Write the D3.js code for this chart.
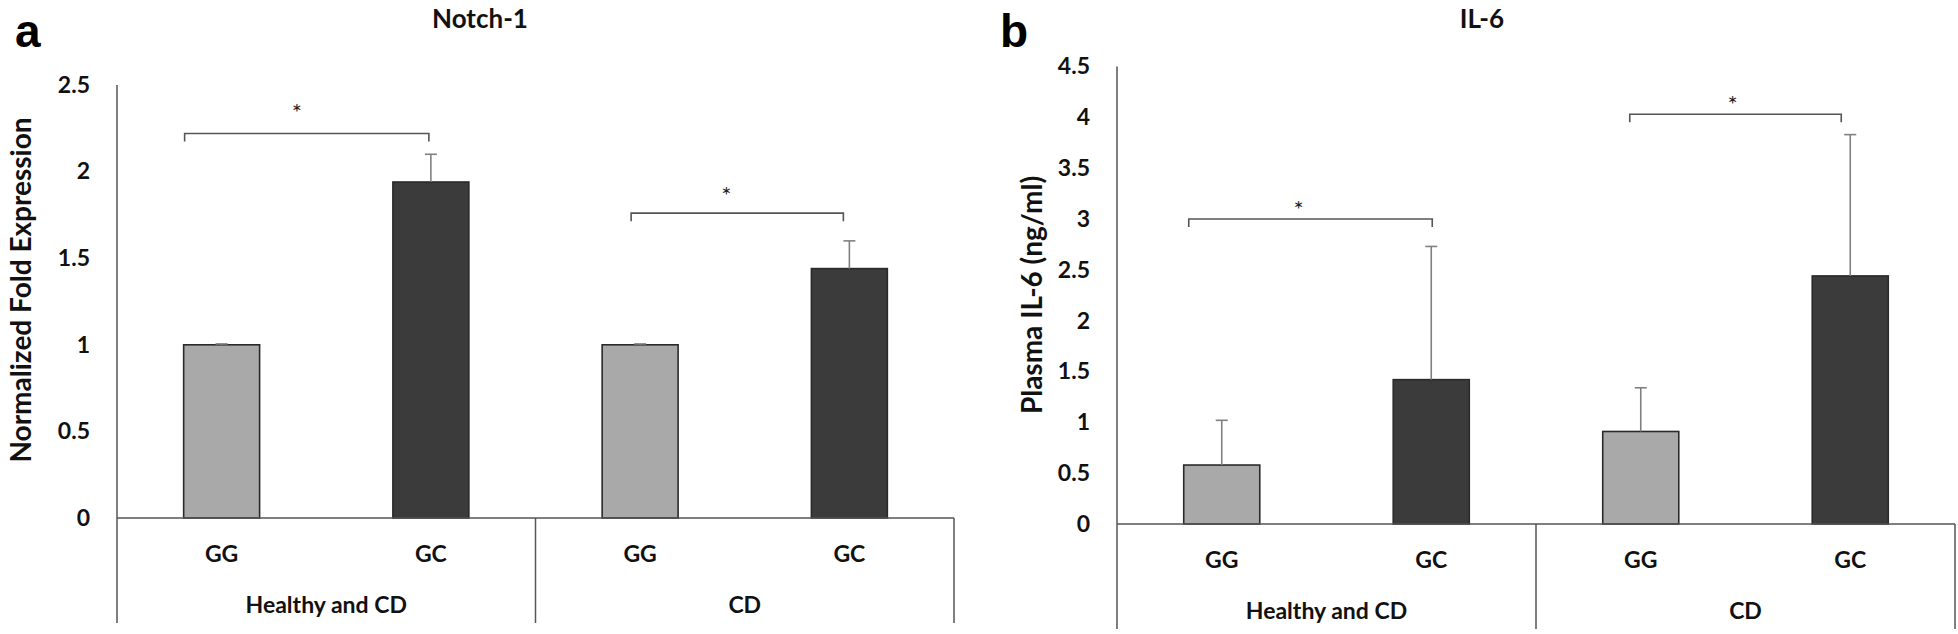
<!DOCTYPE html>
<html>
<head>
<meta charset="utf-8">
<script src="https://cdn.jsdelivr.net/npm/d3@7"></script>
<style>
  html, body { margin: 0; padding: 0; background: #fff; }
  svg { display: block; }
</style>
</head>
<body>
<svg id="chart" width="1958" height="634"></svg>
<script>
// ---------------- DATA ----------------
const categories = ["GG", "GC", "GG", "GC"];
const groups = ["Healthy and CD", "CD"];

const notchTitle = "Notch-1";
const notchYLabel = "Normalized Fold Expression";
const notchMeans = [1.0, 1.94, 1.0, 1.44];
const notchErrors = [0.005, 0.16, 0.005, 0.16];
const notchTicks = [0, 0.5, 1, 1.5, 2, 2.5];
const notchBracketLevels = [2.22, 1.76];

const il6Title = "IL-6";
const il6YLabel = "Plasma IL-6 (ng/ml)";
const il6Means = [0.58, 1.42, 0.91, 2.44];
const il6Errors = [0.44, 1.31, 0.43, 1.39];
const il6Ticks = [0, 0.5, 1, 1.5, 2, 2.5, 3, 3.5, 4, 4.5];
const il6BracketLevels = [3.0, 4.03];

const significance = ["*", "*"];
const panelLetters = ["a", "b"];

// ---------------- STYLE / LAYOUT ----------------
const svg = d3.select("#chart");
const FONT = "Lato, 'Open Sans', sans-serif";
const barFill = ["#a9a9a9", "#3b3b3b", "#a9a9a9", "#3b3b3b"];

const panels = [
  {
    letter: panelLetters[0], letterX: 15, title: notchTitle, titleX: 480,
    yLabel: notchYLabel, yLabelX: 31, yLabelY: 290,
    means: notchMeans, errors: notchErrors, ticks: notchTicks, max: 2.5,
    x0: 117, x1: 954, yBase: 518, yTop: 85,
    brackets: [
      { level: notchBracketLevels[0], from: 0, to: 1, dx0: -37, dx1: -2, sx: -10, sy: -24 },
      { level: notchBracketLevels[1], from: 2, to: 3, dx0: -9, dx1: -6, sx: -11, sy: -21 }
    ]
  },
  {
    letter: panelLetters[1], letterX: 1000, title: il6Title, titleX: 1482,
    yLabel: il6YLabel, yLabelX: 1042, yLabelY: 295,
    means: il6Means, errors: il6Errors, ticks: il6Ticks, max: 4.5,
    x0: 1117, x1: 1955, yBase: 524, yTop: 66.5,
    brackets: [
      { level: il6BracketLevels[0], from: 0, to: 1, dx0: -33, dx1: 1, sx: -12, sy: -13 },
      { level: il6BracketLevels[1], from: 2, to: 3, dx0: -11, dx1: -9, sx: -3, sy: -13 }
    ]
  }
];

panels.forEach(p => {
  const g = svg.append("g");
  const idx = d3.range(categories.length);

  const x = d3.scaleBand()
    .domain(idx)
    .range([p.x0, p.x1])
    .paddingInner(0.637)
    .paddingOuter(0.3185);
  const step = x.step();
  const cx = i => x(i) + x.bandwidth() / 2;

  const y = d3.scaleLinear().domain([0, p.max]).range([p.yBase, p.yTop]);
  const bottom = p.yBase + 105;

  // panel letter
  svg.append("text")
    .attr("x", p.letterX).attr("y", 47)
    .attr("font-family", "'Liberation Sans', Arial, sans-serif")
    .attr("font-weight", "bold").attr("font-size", 46)
    .attr("fill", "#000")
    .text(p.letter);

  // title
  g.append("text")
    .attr("x", p.titleX).attr("y", 28)
    .attr("text-anchor", "middle")
    .attr("font-family", FONT).attr("font-weight", "bold").attr("font-size", 26)
    .attr("fill", "#111")
    .text(p.title);

  // y axis tick labels
  const yAxis = d3.axisLeft(y).tickValues(p.ticks).tickSize(0).tickPadding(27)
    .tickFormat(d3.format("~g"));
  const ag = g.append("g").attr("transform", `translate(${p.x0},0)`).call(yAxis);
  ag.select(".domain").remove();
  ag.selectAll("text")
    .attr("font-family", FONT).attr("font-weight", "bold").attr("font-size", 23)
    .attr("fill", "#111");

  // y axis title
  g.append("text")
    .attr("transform", `translate(${p.yLabelX},${p.yLabelY}) rotate(-90)`)
    .attr("text-anchor", "middle")
    .attr("font-family", FONT).attr("font-weight", "bold").attr("font-size", 28)
    .attr("fill", "#111")
    .text(p.yLabel);

  // bars
  g.selectAll("rect.bar").data(p.means).join("rect")
    .attr("class", "bar")
    .attr("x", (d, i) => x(i))
    .attr("y", d => y(d))
    .attr("width", x.bandwidth())
    .attr("height", d => y(0) - y(d))
    .attr("fill", (d, i) => barFill[i])
    .attr("stroke", "#2a2a2a").attr("stroke-width", 1.6);

  // error bars (upper only)
  const capW = 12;
  p.means.forEach((m, i) => {
    const top = y(m + p.errors[i]);
    g.append("line")
      .attr("x1", cx(i)).attr("x2", cx(i))
      .attr("y1", y(m)).attr("y2", top)
      .attr("stroke", "#808080").attr("stroke-width", 1.6);
    g.append("line")
      .attr("x1", cx(i) - capW / 2).attr("x2", cx(i) + capW / 2)
      .attr("y1", top).attr("y2", top)
      .attr("stroke", "#808080").attr("stroke-width", 1.6);
  });

  // axes lines
  const axisColor = "#555";
  g.append("line")
    .attr("x1", p.x0).attr("x2", p.x0).attr("y1", p.yTop).attr("y2", bottom)
    .attr("stroke", axisColor).attr("stroke-width", 1.5);
  g.append("line")
    .attr("x1", p.x0).attr("x2", p.x1).attr("y1", p.yBase).attr("y2", p.yBase)
    .attr("stroke", axisColor).attr("stroke-width", 1.5);
  [p.x0 + 2 * step, p.x1].forEach(sx => {
    g.append("line")
      .attr("x1", sx).attr("x2", sx).attr("y1", p.yBase).attr("y2", bottom)
      .attr("stroke", axisColor).attr("stroke-width", 1.5);
  });

  // category labels
  g.selectAll("text.cat").data(categories).join("text")
    .attr("class", "cat")
    .attr("x", (d, i) => cx(i))
    .attr("y", p.yBase + 44)
    .attr("text-anchor", "middle")
    .attr("font-family", FONT).attr("font-weight", "bold").attr("font-size", 23)
    .attr("fill", "#111")
    .text(d => d);

  // group labels
  g.selectAll("text.grp").data(groups).join("text")
    .attr("class", "grp")
    .attr("x", (d, j) => p.x0 + step * (2 * j + 1))
    .attr("y", p.yBase + 95)
    .attr("text-anchor", "middle")
    .attr("font-family", FONT).attr("font-weight", "bold").attr("font-size", 23)
    .attr("fill", "#111")
    .text(d => d);

  // significance brackets
  p.brackets.forEach((b, k) => {
    const by = y(b.level);
    const xa = cx(b.from) + b.dx0;
    const xb = cx(b.to) + b.dx1;
    g.append("path")
      .attr("d", `M${xa},${by + 8} L${xa},${by} L${xb},${by} L${xb},${by + 8}`)
      .attr("fill", "none").attr("stroke", "#555").attr("stroke-width", 1.6);
    g.append("text")
      .attr("x", (xa + xb) / 2 + b.sx)
      .attr("y", by + b.sy + 12)
      .attr("text-anchor", "middle")
      .attr("font-family", FONT).attr("font-size", 24)
      .attr("fill", "#222")
      .text(significance[k]);
  });
});
</script>
</body>
</html>
